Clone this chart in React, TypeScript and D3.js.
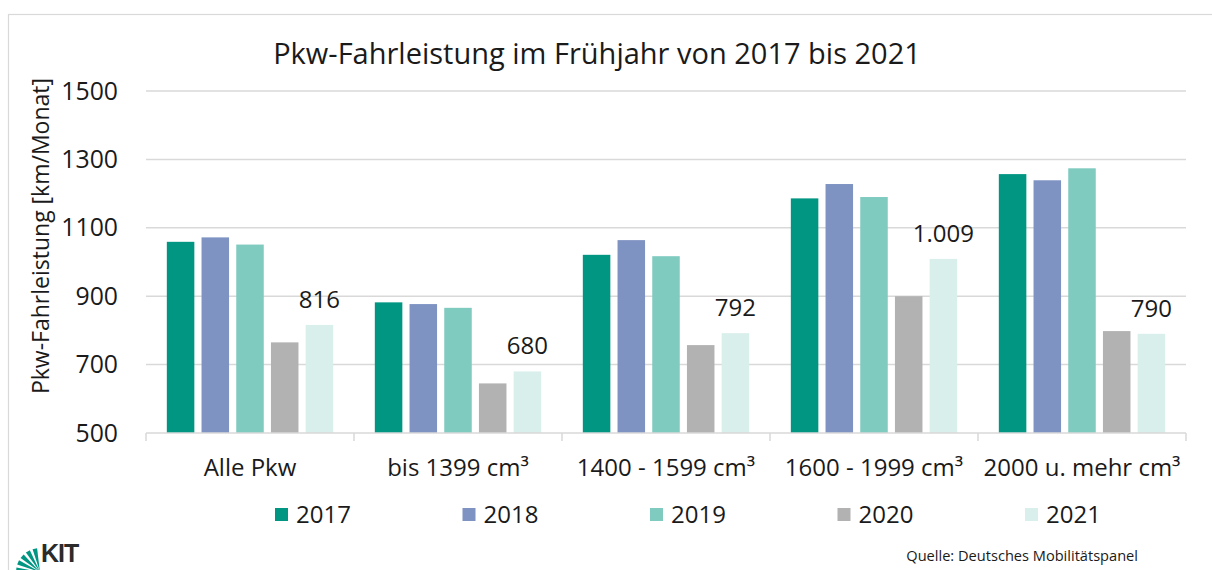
import React from "react";
import * as d3 from "d3";

const categories = ["Alle Pkw", "bis 1399 cm³", "1400 - 1599 cm³", "1600 - 1999 cm³", "2000 u. mehr cm³"];
const years = ["2017", "2018", "2019", "2020", "2021"];
const values2017 = [1059, 882, 1021, 1186, 1257];
const values2018 = [1072, 877, 1064, 1228, 1239];
const values2019 = [1051, 866, 1017, 1190, 1274];
const values2020 = [765, 645, 757, 900, 798];
const values2021 = [816, 680, 792, 1009, 790];
const labels2021 = ["816", "680", "792", "1.009", "790"];
const yTicks = [500, 700, 900, 1100, 1300, 1500];
const colors = ["#009682", "#7f93c3", "#80cbc0", "#b2b2b2", "#d9efeb"];

const seriesValues = [values2017, values2018, values2019, values2020, values2021];

const FONT = "'Open Sans', Lato, sans-serif";

export default function App() {
  const W = 1212;
  const H = 570;
  const left = 146;
  const right = 1186;
  const top = 91;
  const bottom = 433;

  const x0 = d3.scaleBand<string>().domain(categories).range([left, right]).paddingInner(0).paddingOuter(0);
  const x1 = d3.scaleBand<string>().domain(years).range([0, x0.bandwidth()]).paddingInner(0.207).paddingOuter(0.6);
  const y = d3.scaleLinear().domain([500, 1500]).range([bottom, top]);

  const legendX = d3.scalePoint<string>().domain(years).range([275, 1025]);

  const boundaries = categories.map((c) => x0(c) as number).concat([right]);

  return (
    <svg width={W} height={H} style={{ position: "absolute", left: 0, top: 0, background: "#fff" }} fontFamily={FONT}>
      <rect x={0} y={0} width={W} height={H} fill="#fff" />
      <rect x={8.5} y={14.5} width={1220} height={600} fill="none" stroke="#d9d9d9" strokeWidth={1.2} />
      <text x={597} y={64} textAnchor="middle" fontSize={29} fill="#1a1a1a">
        Pkw-Fahrleistung im Frühjahr von 2017 bis 2021
      </text>
      {yTicks.map((t) => (
        <g key={t}>
          {t !== 500 && (
            <line x1={left} x2={right} y1={y(t)} y2={y(t)} stroke="#d9d9d9" strokeWidth={1.5} />
          )}
          <text x={118} y={y(t)} dy="0.35em" textAnchor="end" fontSize={24.8} fill="#1a1a1a">
            {t}
          </text>
        </g>
      ))}
      <text
        transform={`translate(41,236) rotate(-90)`}
        textAnchor="middle"
        dy="0.35em"
        fontSize={23}
        fill="#1a1a1a"
      >
        Pkw-Fahrleistung [km/Monat]
      </text>
      {categories.map((c, ci) => (
        <g key={c} transform={`translate(${x0(c)},0)`}>
          {years.map((yr, si) => {
            const v = seriesValues[si][ci];
            return (
              <rect
                key={yr}
                x={x1(yr)}
                y={y(v)}
                width={x1.bandwidth()}
                height={bottom - y(v)}
                fill={colors[si]}
              />
            );
          })}
          <text
            x={(x1("2021") as number) + x1.bandwidth() / 2}
            y={y(values2021[ci]) - 17}
            textAnchor="middle"
            fontSize={24}
            fill="#1a1a1a"
          >
            {labels2021[ci]}
          </text>
          <text
            x={x0.bandwidth() / 2}
            y={476}
            textAnchor="middle"
            fontSize={24}
            fill="#1a1a1a"
          >
            {c}
          </text>
        </g>
      ))}
      <line x1={left} x2={right} y1={bottom} y2={bottom} stroke="#d9d9d9" strokeWidth={1.5} />
      {boundaries.map((bx, i) => (
        <line key={i} x1={bx} x2={bx} y1={bottom} y2={bottom + 8} stroke="#d9d9d9" strokeWidth={1.5} />
      ))}
      {years.map((yr, i) => (
        <g key={yr} transform={`translate(${legendX(yr)},0)`}>
          <rect x={0} y={508} width={13} height={13} fill={colors[i]} />
          <text x={21} y={515} dy="0.35em" fontSize={24} fill="#1a1a1a">
            {yr}
          </text>
        </g>
      ))}
      <text x={1138} y={561} textAnchor="end" fontSize={14.6} fill="#1a1a1a">
        Quelle: Deutsches Mobilitätspanel
      </text>
      <g>
        {[0, 1, 2, 3, 4].map((k) => {
          const cx = 40;
          const cy = 572;
          const a0 = (-180 + k * 18) * (Math.PI / 180);
          const a1 = a0 + 11 * (Math.PI / 180);
          const r = 24;
          return (
            <path
              key={k}
              d={`M${cx},${cy} L${cx + r * Math.cos(a0)},${cy + r * Math.sin(a0)} L${cx + r * Math.cos(a1)},${cy + r * Math.sin(a1)} Z`}
              fill="#009682"
            />
          );
        })}
        <text x={41} y={562} fontSize={25} fontWeight="bold" fill="#2b2b2b" fontFamily="'Liberation Sans Narrow', 'Liberation Sans', sans-serif" letterSpacing={-1}>
          KIT
        </text>
      </g>
    </svg>
  );
}
